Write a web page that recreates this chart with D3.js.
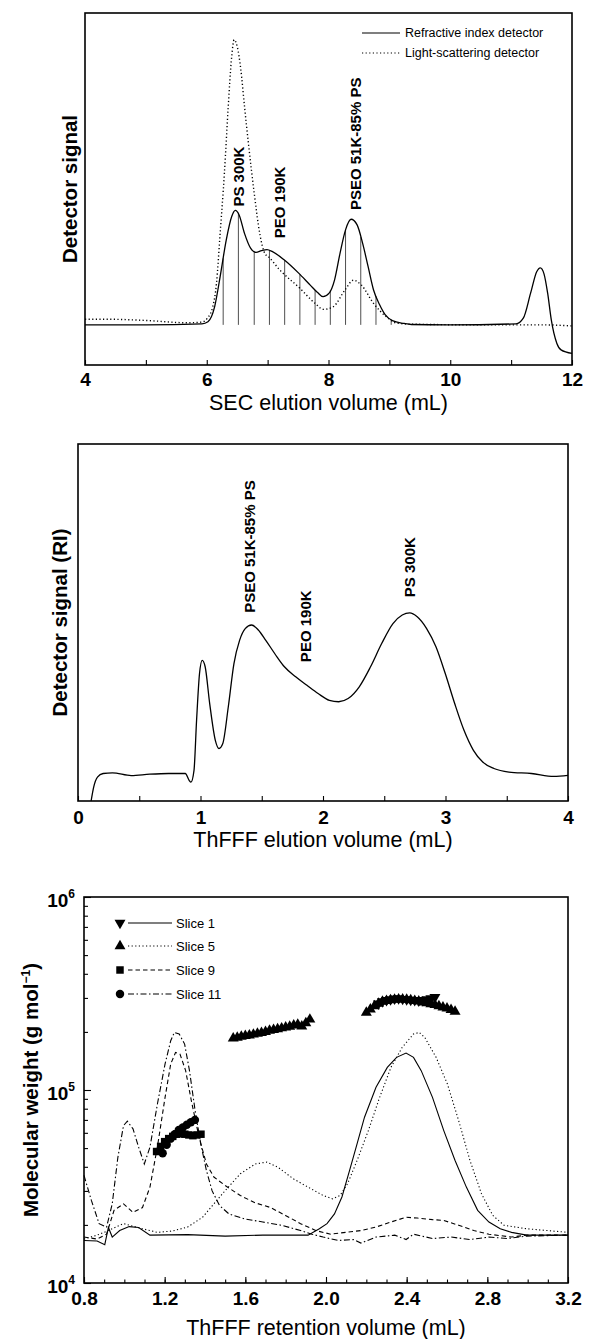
<!DOCTYPE html>
<html>
<head>
<meta charset="utf-8">
<script src="https://cdn.jsdelivr.net/npm/d3@7"></script>
<style>
  body { margin: 0; background: #fff; }
  svg text { font-family: "Liberation Sans", Arial, Helvetica, sans-serif; fill: #000; }
</style>
</head>
<body>
<svg id="fig" width="589" height="1339"></svg>
<script>
// ---------- data ----------
// Panel 1: SEC, [elution volume mL, signal (0-100 of plot height)]
const secRefractive = [
  [4.00, 11.4], [5.00, 11.4], [5.92, 11.7], [6.02, 12.3], [6.13, 16.6], [6.22, 25.1], [6.32, 35.5],
  [6.41, 42.2], [6.47, 43.9], [6.53, 42.7], [6.62, 37.4], [6.72, 33.2], [6.81, 32.0], [6.90, 32.5],
  [6.99, 32.8], [7.08, 32.2], [7.27, 29.9], [7.51, 26.1], [7.70, 22.7], [7.82, 20.6], [7.91, 19.4],
  [8.01, 20.4], [8.10, 24.2], [8.19, 31.8], [8.28, 38.4], [8.37, 41.4], [8.47, 39.8], [8.56, 34.6],
  [8.65, 28.0], [8.74, 21.3], [8.84, 17.1], [8.93, 14.3], [9.05, 12.6], [9.24, 11.8], [9.36, 11.5],
  [9.97, 11.4], [11.08, 11.7], [11.20, 13.3], [11.32, 20.4], [11.42, 26.5], [11.48, 27.6], [11.54, 25.9],
  [11.60, 20.4], [11.66, 12.8], [11.75, 6.2], [11.82, 4.3], [12.00, 3.3]
];
const secLightScatter = [
  [4.00, 13.0], [4.38, 13.0], [5.06, 12.6], [5.67, 12.0], [5.92, 12.2], [6.01, 13.3], [6.10, 16.6],
  [6.16, 23.2], [6.22, 37.4], [6.29, 54.5], [6.35, 72.5], [6.41, 87.7], [6.45, 92.4], [6.50, 90.5],
  [6.56, 83.9], [6.62, 73.5], [6.69, 62.1], [6.78, 48.8], [6.87, 37.4], [6.96, 31.5], [7.01, 30.8],
  [7.20, 27.0], [7.53, 21.8], [7.78, 17.5], [7.92, 15.8], [8.08, 16.6], [8.27, 21.3], [8.41, 24.1],
  [8.54, 22.7], [8.74, 17.5], [8.95, 13.7], [9.12, 11.9], [9.36, 11.6], [10.59, 11.4], [11.51, 11.4],
  [12.00, 11.1]
];
const sliceVolumes = [6.27, 6.52, 6.78, 7.03, 7.28, 7.53, 7.78, 8.03, 8.28, 8.53, 8.78, 9.03];
const secTicks = [4, 5, 6, 7, 8, 9, 10, 11, 12];
const secLabels = [4, 6, 8, 10, 12];
const secNotes = [
  { text: "PS 300K", x: 6.53, y: 45 },
  { text: "PEO 190K", x: 7.19, y: 36 },
  { text: "PSEO 51K-85% PS", x: 8.45, y: 44 }
];
const secLegend = ["Refractive index detector", "Light-scattering detector"];

// Panel 2: ThFFF, [elution volume mL, RI signal (0-100 of plot height)]
const fffSignal = [
  [0.107, 0], [0.128, 3.9], [0.159, 6.7], [0.205, 7.7], [0.281, 7.9], [0.434, 7.1], [0.586, 7.5],
  [0.739, 7.7], [0.876, 7.7], [0.907, 5.8], [0.922, 5.3], [0.947, 8.6], [0.968, 22.6], [0.992, 35.7],
  [1.014, 39.4], [1.038, 37.6], [1.075, 27.3], [1.121, 17.0], [1.151, 14.7], [1.182, 16.1], [1.227, 26.4],
  [1.273, 38.5], [1.319, 45.0], [1.365, 48.3], [1.417, 49.3], [1.472, 47.9], [1.533, 45.0], [1.624, 40.4],
  [1.685, 37.6], [1.777, 34.8], [1.869, 32.4], [1.960, 30.1], [2.052, 28.2], [2.128, 27.8], [2.205, 28.7],
  [2.296, 32.0], [2.388, 37.6], [2.479, 44.1], [2.571, 49.7], [2.647, 52.1], [2.708, 52.7], [2.769, 51.6],
  [2.846, 48.3], [2.922, 43.2], [2.998, 35.7], [3.075, 27.3], [3.151, 19.8], [3.228, 14.2], [3.304, 10.9],
  [3.395, 9.1], [3.518, 8.1], [3.701, 7.7], [3.884, 6.9], [4.000, 7.2]
];
const fffTicks = [0, 0.5, 1, 1.5, 2, 2.5, 3, 3.5, 4];
const fffLabels = [0, 1, 2, 3, 4];
const fffNotes = [
  { text: "PSEO 51K-85% PS", x: 1.40, y: 52.7 },
  { text: "PEO 190K", x: 1.86, y: 38.9 },
  { text: "PS 300K", x: 2.71, y: 57.1 }
];

// Panel 3: molecular weight, [retention volume mL, g/mol]
const mwSlice1Line = [
  [0.800, 16600], [0.865, 16500], [0.903, 15800], [0.921, 19400], [0.940, 17300], [0.977, 18700],
  [1.024, 19600], [1.071, 19400], [1.127, 17700], [1.314, 17800], [1.500, 17500], [1.687, 17700],
  [1.911, 17700], [1.967, 19100], [2.005, 20300], [2.042, 22800], [2.079, 27900], [2.117, 38300],
  [2.154, 52600], [2.191, 72300], [2.248, 103300], [2.304, 131000], [2.350, 147600], [2.397, 155400],
  [2.434, 147600], [2.472, 126000], [2.528, 91600], [2.584, 61600], [2.640, 43100], [2.696, 31400],
  [2.752, 23800], [2.808, 20700], [2.864, 19100], [2.920, 18300], [2.995, 17700], [3.200, 17700]
];
const mwSlice5Line = [
  [0.800, 16900], [0.865, 17700], [0.921, 18700], [0.996, 20300], [1.090, 19100], [1.164, 18300],
  [1.239, 18600], [1.314, 19500], [1.388, 21900], [1.444, 25700], [1.500, 30100], [1.575, 36800],
  [1.650, 41400], [1.706, 42300], [1.762, 39800], [1.837, 34700], [1.911, 31400], [1.986, 28400],
  [2.033, 27300], [2.070, 28400], [2.107, 32700], [2.154, 43100], [2.210, 61600], [2.266, 91600],
  [2.322, 131000], [2.378, 166300], [2.434, 195000], [2.462, 198800], [2.490, 187000], [2.546, 147600],
  [2.602, 107400], [2.658, 69300], [2.714, 43100], [2.771, 29000], [2.827, 22400], [2.883, 19900],
  [2.995, 19100], [3.200, 18300]
];
const mwSlice9Line = [
  [0.800, 17300], [0.865, 16900], [0.912, 17900], [0.949, 23800], [0.996, 25700], [1.043, 23200],
  [1.090, 24600], [1.127, 31400], [1.164, 50700], [1.202, 91600], [1.230, 136500], [1.254, 156600],
  [1.276, 153500], [1.304, 126000], [1.332, 88300], [1.370, 57200], [1.407, 41400], [1.444, 35400],
  [1.500, 32000], [1.575, 28400], [1.650, 26000], [1.725, 24600], [1.799, 22400], [1.874, 20300],
  [1.949, 18700], [2.023, 17900], [2.098, 18300], [2.173, 18700], [2.248, 19500], [2.322, 20700],
  [2.397, 21900], [2.453, 21700], [2.528, 21300], [2.584, 21100], [2.658, 19900], [2.733, 18700],
  [2.808, 17900], [2.920, 17300], [2.995, 17700], [3.200, 17700]
];
const mwSlice11Line = [
  [0.800, 36100], [0.837, 26700], [0.875, 20300], [0.912, 19500], [0.940, 25700], [0.968, 44800],
  [0.996, 65400], [1.015, 68900], [1.043, 62900], [1.071, 50500], [1.099, 41400], [1.127, 50500],
  [1.164, 84600], [1.202, 136500], [1.230, 180000], [1.248, 198800], [1.272, 195000], [1.299, 172900],
  [1.323, 126000], [1.351, 78200], [1.379, 52600], [1.407, 38300], [1.435, 30100], [1.472, 25200],
  [1.519, 22800], [1.594, 21500], [1.687, 20700], [1.781, 19900], [1.874, 18700], [1.930, 17900],
  [1.986, 17300], [2.061, 16600], [2.136, 16800], [2.173, 16100], [2.248, 17300], [2.341, 17700],
  [2.397, 16800], [2.434, 17900], [2.528, 17000], [2.621, 17300], [2.714, 16800], [2.808, 17300],
  [2.901, 17000], [2.995, 17500], [3.200, 17700]
];
const mwSlice1Pts = [
  [2.26, 280000], [2.28, 288000], [2.30, 292000], [2.32, 295000], [2.34, 297000], [2.36, 298000],
  [2.38, 296000], [2.40, 295000], [2.42, 293000], [2.44, 292000], [2.46, 290000], [2.48, 292000],
  [2.50, 295000], [2.52, 298000], [2.54, 303000]
];
const mwSlice5Pts = [
  [1.54, 185000], [1.56, 187000], [1.58, 189000], [1.60, 191000], [1.62, 192000], [1.64, 194000],
  [1.66, 196000], [1.68, 198000], [1.70, 200000], [1.72, 203000], [1.74, 205000], [1.76, 207000],
  [1.78, 209000], [1.80, 211000], [1.82, 213000], [1.84, 216000], [1.86, 218000], [1.88, 214000],
  [1.90, 222000], [1.92, 232000],
  [2.20, 252000], [2.22, 262000], [2.24, 272000], [2.26, 280000], [2.28, 287000], [2.30, 290000],
  [2.32, 292000], [2.34, 294000], [2.36, 295000], [2.38, 295000], [2.40, 294000], [2.42, 292000],
  [2.44, 290000], [2.46, 288000], [2.48, 285000], [2.50, 282000], [2.52, 279000], [2.54, 276000],
  [2.56, 272000], [2.58, 268000], [2.60, 265000], [2.62, 260000], [2.64, 255000]
];
const mwSlice9Pts = [
  [1.16, 48000], [1.18, 51000], [1.20, 54000], [1.22, 56000], [1.24, 57500], [1.26, 59000],
  [1.28, 59500], [1.30, 59000], [1.32, 58500], [1.34, 58000], [1.36, 58500], [1.38, 59000]
];
const mwSlice11Pts = [
  [1.19, 47000], [1.21, 52000], [1.23, 56000], [1.25, 59000], [1.27, 62000], [1.29, 64000],
  [1.31, 66000], [1.33, 68000], [1.35, 70000]
];
const mwXTicks = [0.8, 0.9, 1.0, 1.1, 1.2, 1.3, 1.4, 1.5, 1.6, 1.7, 1.8, 1.9, 2.0, 2.1, 2.2, 2.3, 2.4,
  2.5, 2.6, 2.7, 2.8, 2.9, 3.0, 3.1, 3.2];
const mwXLabels = [0.8, 1.2, 1.6, 2.0, 2.4, 2.8, 3.2];
const mwYMajor = [1e4, 1e5, 1e6];
const mwYMinor = [2e4, 3e4, 4e4, 5e4, 6e4, 7e4, 8e4, 9e4, 2e5, 3e5, 4e5, 5e5, 6e5, 7e5, 8e5, 9e5];
const mwSeriesNames = ["Slice 1", "Slice 5", "Slice 9", "Slice 11"];

// ---------- drawing ----------
const svg = d3.select("#fig");
const dashes = [null, "1.2,2.4", "4.5,3", "6,2.5,1.5,2.5"];

function signalAt(data, v) {
  const i = d3.bisector(d => d[0]).left(data, v);
  const a = data[i - 1], b = data[i];
  return a[1] + (b[1] - a[1]) * (v - a[0]) / (b[0] - a[0]);
}

function drawFrame(g, box) {
  g.append("rect")
    .attr("x", box.left).attr("y", box.top)
    .attr("width", box.right - box.left).attr("height", box.bottom - box.top)
    .attr("fill", "none").attr("stroke", "#000").attr("stroke-width", 1.6);
}

function bottomTicks(g, box, scale, values, size) {
  g.append("g")
    .attr("transform", `translate(0,${box.bottom})`)
    .call(d3.axisBottom(scale).tickValues(values).tickSize(-size).tickFormat(""))
    .call(a => a.select(".domain").remove())
    .selectAll("line").attr("stroke-width", 1.1);
}

function bottomLabels(g, box, scale, values, fmt, pad) {
  g.append("g")
    .attr("transform", `translate(0,${box.bottom})`)
    .call(d3.axisBottom(scale).tickValues(values).tickSize(0).tickPadding(pad).tickFormat(fmt))
    .call(a => a.select(".domain").remove())
    .selectAll("text")
    .attr("font-family", null)
    .style("font-size", "19px")
    .style("font-weight", "bold");
}

function xTitle(g, box, y, label) {
  g.append("text")
    .attr("x", (box.left + box.right) / 2).attr("y", y)
    .attr("text-anchor", "middle")
    .style("font-size", "21.5px")
    .text(label);
}

function yTitle(g, x, yc, label) {
  return g.append("text")
    .attr("transform", `translate(${x},${yc}) rotate(-90)`)
    .attr("text-anchor", "middle")
    .style("font-size", "20.5px")
    .style("font-weight", "bold")
    .text(label);
}

function notes(g, xs, ys, data) {
  g.selectAll(".note").data(data).enter().append("text")
    .attr("class", "note")
    .attr("transform", d => `translate(${xs(d.x)},${ys(d.y)}) rotate(-90)`)
    .attr("dy", "0.36em")
    .style("font-size", "15px")
    .style("font-weight", "bold")
    .text(d => d.text);
}

// Chart 1: SEC
const box1 = { left: 85, right: 572, top: 13, bottom: 365 };
const x1 = d3.scaleLinear().domain([4, 12]).range([box1.left, box1.right]);
const y1 = d3.scaleLinear().domain([0, 100]).range([box1.bottom, box1.top]);
const g1 = svg.append("g");
const line1 = d3.line().x(d => x1(d[0])).y(d => y1(d[1])).curve(d3.curveMonotoneX);
const riBaseline = secRefractive[0][1];

g1.selectAll(".slice").data(sliceVolumes).enter().append("line")
  .attr("class", "slice")
  .attr("x1", d => x1(d)).attr("x2", d => x1(d))
  .attr("y1", y1(riBaseline))
  .attr("y2", d => y1(signalAt(secRefractive, d)))
  .attr("stroke", "#222").attr("stroke-width", 0.8);

g1.append("path").datum(secLightScatter)
  .attr("d", line1).attr("fill", "none")
  .attr("stroke", "#000").attr("stroke-width", 1.4).attr("stroke-dasharray", dashes[1]);
g1.append("path").datum(secRefractive)
  .attr("d", line1).attr("fill", "none")
  .attr("stroke", "#000").attr("stroke-width", 1.3);

drawFrame(g1, box1);
bottomTicks(g1, box1, x1, secTicks, 5);
bottomLabels(g1, box1, x1, secLabels, d3.format("d"), 8);
xTitle(g1, box1, 410, "SEC elution volume (mL)");
yTitle(g1, 77, (box1.top + box1.bottom) / 2, "Detector signal");
notes(g1, x1, y1, secNotes);

secLegend.forEach((label, i) => {
  const yy = 33 + i * 20;
  g1.append("line")
    .attr("x1", 362).attr("x2", 400).attr("y1", yy).attr("y2", yy)
    .attr("stroke", "#000").attr("stroke-width", 1.2)
    .attr("stroke-dasharray", i === 0 ? null : dashes[1]);
  g1.append("text")
    .attr("x", 405).attr("y", yy).attr("dy", "0.35em")
    .style("font-size", "12.5px")
    .text(label);
});

// Chart 2: ThFFF
const box2 = { left: 78, right: 568, top: 444, bottom: 801 };
const x2 = d3.scaleLinear().domain([0, 4]).range([box2.left, box2.right]);
const y2 = d3.scaleLinear().domain([0, 100]).range([box2.bottom, box2.top]);
const g2 = svg.append("g");
const line2 = d3.line().x(d => x2(d[0])).y(d => y2(d[1])).curve(d3.curveMonotoneX);

g2.append("path").datum(fffSignal)
  .attr("d", line2).attr("fill", "none")
  .attr("stroke", "#000").attr("stroke-width", 1.3);

drawFrame(g2, box2);
bottomTicks(g2, box2, x2, fffTicks, 5);
bottomLabels(g2, box2, x2, fffLabels, d3.format("d"), 10);
xTitle(g2, box2, 847, "ThFFF elution volume (mL)");
yTitle(g2, 67, (box2.top + box2.bottom) / 2, "Detector signal (RI)");
notes(g2, x2, y2, fffNotes);

// Chart 3: molecular weight
const box3 = { left: 84, right: 568, top: 897, bottom: 1283 };
const x3 = d3.scaleLinear().domain([0.8, 3.2]).range([box3.left, box3.right]);
const y3 = d3.scaleLog().domain([1e4, 1e6]).range([box3.bottom, box3.top]);
const g3 = svg.append("g");
const line3 = d3.line().x(d => x3(d[0])).y(d => y3(d[1]));

const mwLines = [mwSlice1Line, mwSlice5Line, mwSlice9Line, mwSlice11Line];
const mwPoints = [mwSlice1Pts, mwSlice5Pts, mwSlice9Pts, mwSlice11Pts];
const symbols = [
  { type: d3.symbolTriangle, size: 52, rot: 180 },
  { type: d3.symbolTriangle, size: 52, rot: 0 },
  { type: d3.symbolSquare, size: 56, rot: 0 },
  { type: d3.symbolCircle, size: 56, rot: 0 }
];

mwLines.forEach((data, i) => {
  g3.append("path").datum(data)
    .attr("d", line3).attr("fill", "none")
    .attr("stroke", "#000").attr("stroke-width", 1.1)
    .attr("stroke-dasharray", dashes[i]);
});

mwPoints.forEach((data, i) => {
  const s = symbols[i];
  g3.append("g").selectAll("path").data(data).enter().append("path")
    .attr("d", d3.symbol().type(s.type).size(s.size))
    .attr("transform", d => `translate(${x3(d[0])},${y3(d[1])}) rotate(${s.rot})`)
    .attr("fill", "#000");
});

drawFrame(g3, box3);
bottomTicks(g3, box3, x3, mwXTicks, 3.5);
bottomTicks(g3, box3, x3, mwXLabels, 6);
bottomLabels(g3, box3, x3, mwXLabels, d3.format(".1f"), 9);

g3.append("g")
  .attr("transform", `translate(${box3.left},0)`)
  .call(d3.axisLeft(y3).tickValues(mwYMinor).tickSize(-4).tickFormat(""))
  .call(a => a.select(".domain").remove())
  .selectAll("line").attr("stroke-width", 1.1);
g3.append("g")
  .attr("transform", `translate(${box3.left},0)`)
  .call(d3.axisLeft(y3).tickValues(mwYMajor).tickSize(-7).tickFormat(""))
  .call(a => a.select(".domain").remove())
  .selectAll("line").attr("stroke-width", 1.1);

mwYMajor.forEach(v => {
  const t = g3.append("text")
    .attr("x", 75).attr("y", y3(v) + 9.5)
    .attr("text-anchor", "end")
    .style("font-size", "19px")
    .style("font-weight", "bold");
  t.append("tspan").text("10");
  t.append("tspan").attr("dy", -9).style("font-size", "12px").text(Math.round(Math.log10(v)));
});

xTitle(g3, box3, 1335, "ThFFF retention volume (mL)");
const yt3 = yTitle(g3, 38, (box3.top + box3.bottom) / 2, "Molecular weight (g mol");
yt3.append("tspan").attr("dy", -8).style("font-size", "12px").text("\u22121");
yt3.append("tspan").attr("dy", 8).text(")");

mwSeriesNames.forEach((name, i) => {
  const yy = [923, 946, 970, 994][i];
  const s = symbols[i];
  g3.append("path")
    .attr("d", d3.symbol().type(s.type).size(s.size)())
    .attr("transform", `translate(120,${yy}) rotate(${s.rot})`)
    .attr("fill", "#000");
  g3.append("line")
    .attr("x1", 128).attr("x2", 172).attr("y1", yy).attr("y2", yy)
    .attr("stroke", "#000").attr("stroke-width", 1.1)
    .attr("stroke-dasharray", dashes[i]);
  g3.append("text")
    .attr("x", 176).attr("y", yy).attr("dy", "0.35em")
    .style("font-size", "13px")
    .text(name);
});
</script>
</body>
</html>
